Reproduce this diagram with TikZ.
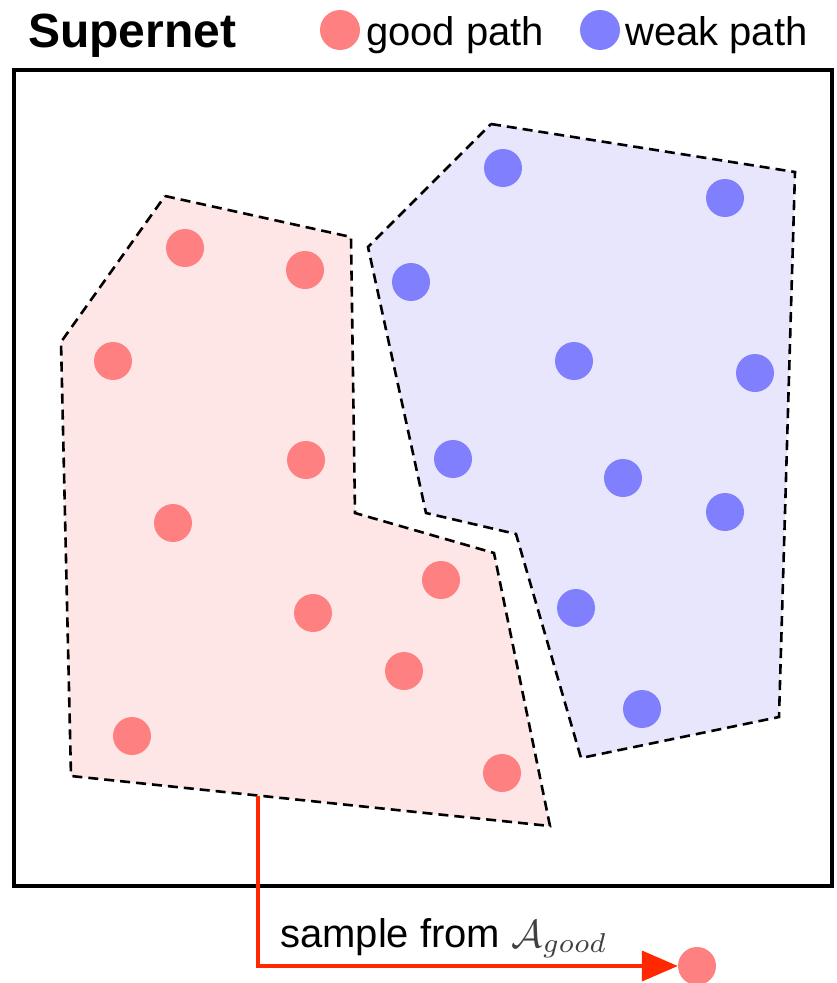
\documentclass[tikz,border=0pt]{standalone}
\usepackage{fontspec}
\setmainfont{Liberation Sans}
\usetikzlibrary{arrows.meta}
\definecolor{gooddot}{RGB}{255,128,128}
\definecolor{weakdot}{RGB}{128,128,255}
\definecolor{goodfill}{RGB}{254,230,230}
\definecolor{weakfill}{RGB}{232,230,252}
\definecolor{arrowred}{RGB}{255,40,0}
\tikzset{
  gdot/.style={circle,fill=gooddot,draw=none,minimum size=38pt,inner sep=0pt},
  wdot/.style={circle,fill=weakdot,draw=none,minimum size=38pt,inner sep=0pt},
  region/.style={draw=black,line width=2.6pt,dash pattern=on 10pt off 6pt,line join=miter},
  lbl/.style={anchor=base west,inner sep=0pt,font=\fontsize{40}{44}\selectfont},
}
\begin{document}
\begin{tikzpicture}[x=1pt,y=-1pt]
\useasboundingbox (0,0) rectangle (836,983);
% frame
\node[draw=black,line width=4pt,minimum width=818pt,minimum height=816pt,inner sep=0pt] (frame) at (423,478) {};
% title and legend
\node[lbl,font=\fontsize{48}{52}\selectfont\bfseries] (title) at (28,47) {Supernet};
\node[gdot,minimum size=40pt] (leggood) at (340,30) {};
\node[lbl] (leggoodtxt) at (366,45) {good path};
\node[wdot,minimum size=40pt] (legweak) at (600,30) {};
\node[lbl] (legweaktxt) at (625,45) {weak path};
% good region
\coordinate (g1) at (165,196);
\coordinate (g2) at (351,237);
\coordinate (g3) at (355,513);
\coordinate (g4) at (494,553);
\coordinate (g5) at (550,826);
\coordinate (g6) at (71,776);
\coordinate (g7) at (61,342);
\filldraw[region,fill=goodfill] (g1) -- (g2) -- (g3) -- (g4) -- (g5) -- (g6) -- (g7) -- cycle;
% weak region
\coordinate (w1) at (491,124);
\coordinate (w2) at (795,172);
\coordinate (w3) at (779,717);
\coordinate (w4) at (581,758);
\coordinate (w5) at (516,534);
\coordinate (w6) at (426,513);
\coordinate (w7) at (368,247);
\filldraw[region,fill=weakfill] (w1) -- (w2) -- (w3) -- (w4) -- (w5) -- (w6) -- (w7) -- cycle;
% good dots
\node[gdot] (a1) at (185,248) {};
\node[gdot] (a2) at (305,270) {};
\node[gdot] (a3) at (113,361) {};
\node[gdot] (a4) at (306,460) {};
\node[gdot] (a5) at (173,523) {};
\node[gdot] (a6) at (441,580) {};
\node[gdot] (a7) at (313,613) {};
\node[gdot] (a8) at (404,671) {};
\node[gdot] (a9) at (132,736) {};
\node[gdot] (a10) at (502,773) {};
% weak dots
\node[wdot] (b1) at (503,168) {};
\node[wdot] (b2) at (725,198) {};
\node[wdot] (b3) at (411,282) {};
\node[wdot] (b4) at (574,361) {};
\node[wdot] (b5) at (755,373) {};
\node[wdot] (b6) at (453,459) {};
\node[wdot] (b7) at (623,478) {};
\node[wdot] (b8) at (725,512) {};
\node[wdot] (b9) at (576,608) {};
\node[wdot] (b10) at (642,709) {};
% sampled path
\node[gdot] (sampled) at (697,966) {};
\coordinate (start) at (258,796);
\draw[arrowred,line width=4pt,-{Triangle[length=36pt,width=30pt]}] (start) |- (sampled.west);
\node[lbl] (samplelbl) at (280,947) {sample from \textcolor{black!75}{\scalebox{3.9}{\fontsize{10}{12}\selectfont$\mathcal{A}_{good}$}}};
\end{tikzpicture}
\end{document}
